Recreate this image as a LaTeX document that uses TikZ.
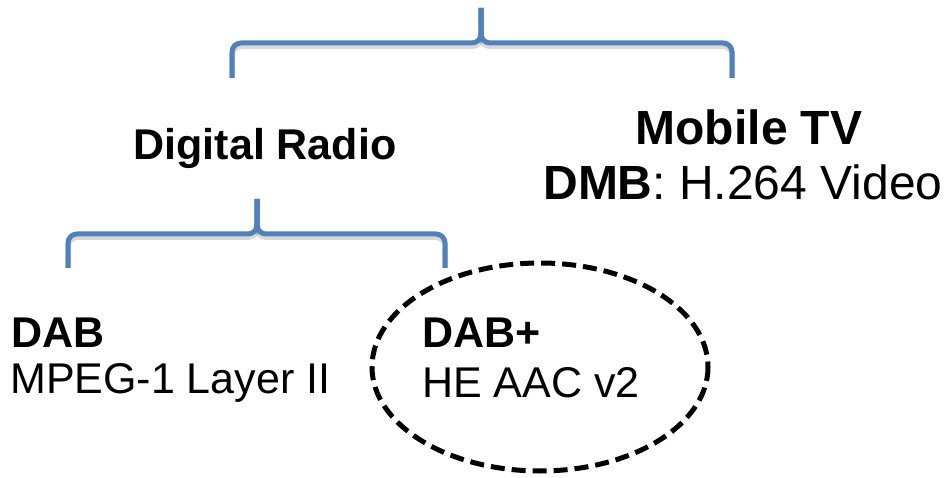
\documentclass[tikz,border=0pt]{standalone}
\usepackage{fontspec}
\setmainfont{Liberation Sans}
\usepackage{tikz}
\definecolor{bracecol}{HTML}{4F81BD}

\begin{document}
\begin{tikzpicture}[x=1pt, y=-1pt]
        \tikzstyle{every node}=[inner sep=0pt, font=\fontsize{43}{46}\selectfont]
        \tikzstyle{big}=[font=\fontsize{48}{52}\selectfont]
        \tikzstyle{brace}=[draw=bracecol, line width=5pt, rounded corners=9pt]
        \tikzstyle{braceshade}=[draw=black, opacity=.15, line width=6pt, rounded corners=9pt, shift={(1,3)}]
        \tikzstyle{pick}=[draw=black, line width=5pt, dash pattern=on 14pt off 7pt]
        \useasboundingbox (0,0) rectangle (945,478);
        % upper brace
        \coordinate (tvtip) at (481,8);
        \coordinate (tvleft) at (232,78);
        \coordinate (tvright) at (732,78);
        \draw [braceshade] (tvleft) -- (tvleft |- 0,43) -- (tvtip |- 0,43) -- (tvtip);
        \draw [braceshade] (tvright) -- (tvright |- 0,43) -- (tvtip |- 0,43) -- (tvtip);
        \draw [brace] (tvleft) -- (tvleft |- 0,43) -- (tvtip |- 0,43) -- (tvtip);
        \draw [brace] (tvright) -- (tvright |- 0,43) -- (tvtip |- 0,43) -- (tvtip);
        % lower brace
        \coordinate (radiotip) at (257,199);
        \coordinate (radioleft) at (68,268);
        \coordinate (radioright) at (445,268);
        \draw [braceshade] (radioleft) -- (radioleft |- 0,234) -- (radiotip |- 0,234) -- (radiotip);
        \draw [braceshade] (radioright) -- (radioright |- 0,234) -- (radiotip |- 0,234) -- (radiotip);
        \draw [brace] (radioleft) -- (radioleft |- 0,234) -- (radiotip |- 0,234) -- (radiotip);
        \draw [brace] (radioright) -- (radioright |- 0,234) -- (radiotip |- 0,234) -- (radiotip);
        % labels
        \node [anchor=base] (radio) at (265,160) {\textbf{Digital Radio}};
        \node [big, anchor=base] (mobile) at (749,145) {\textbf{Mobile TV}};
        \node [big, anchor=base] (dmb) at (743,200) {\textbf{DMB}: H.264 Video};
        \node [anchor=base west] (dab) at (11,347) {\textbf{DAB}};
        \node [anchor=base west] (mpeg) at (10,393) {MPEG-1 Layer II};
        \node [anchor=base west] (dabplus) at (422,347) {\textbf{DAB+}};
        \node [anchor=base west] (heaac) at (422,397) {HE AAC v2};
        % the circled one
        \draw [pick] (540,367) ellipse [x radius=168, y radius=104];
\end{tikzpicture}
\end{document}
